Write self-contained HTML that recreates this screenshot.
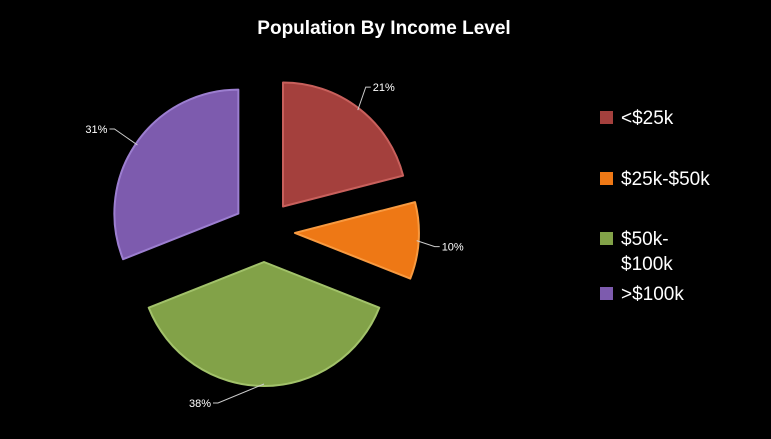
<!DOCTYPE html>
<html><head><meta charset="utf-8">
<style>
html,body{margin:0;padding:0;background:#000;}
body{width:771px;height:434px;overflow:hidden;font-family:"Liberation Sans",sans-serif;}
</style></head>
<body>
<svg id="chart" width="771" height="434" viewBox="0 0 771 434">
<defs>
<radialGradient id="shade" cx="50%" cy="50%" r="50%">
<stop offset="0.9" stop-color="#000" stop-opacity="0"/>
<stop offset="1" stop-color="#000" stop-opacity="0.15"/>
</radialGradient>
</defs>
<rect x="0" y="0" width="771" height="434" fill="#000"/>
<text x="384" y="34" text-anchor="middle" fill="#fff" font-size="19" font-weight="bold">Population By Income Level</text>
<g id="slices"></g>
<g id="labels"></g>
<g id="legend"></g>
</svg>
<script>
const categories = ["<$25k", "$25k-$50k", "$50k-$100k", ">$100k"];
const values = [21, 10, 38, 31];
const valueLabels = ["21%", "10%", "38%", "31%"];
const colors = ["#A4403D", "#EE7815", "#82A248", "#7D5BAE"];
const edgeColors = ["#C8605C", "#F89A40", "#A2C26A", "#9C7ED0"];

const NS = "http://www.w3.org/2000/svg";
const cx = 264, cy = 231, r = 124, explode = 31;
const labelDx = [8, 18, -46, -23];
const labelDy = [-23, 6, 19, -16];
const total = values.reduce((a, b) => a + b, 0);
function pt(angleDeg, rad, ox, oy) {
  const a = angleDeg * Math.PI / 180;
  return [ox + rad * Math.sin(a), oy - rad * Math.cos(a)];
}
const sg = document.getElementById("slices");
const lg = document.getElementById("labels");
let start = 0;
values.forEach((v, i) => {
  const sweep = v / total * 360;
  const mid = start + sweep / 2;
  const [ox, oy] = pt(mid, explode, cx, cy);
  const [x1, y1] = pt(start, r, ox, oy);
  const [x2, y2] = pt(start + sweep, r, ox, oy);
  const large = sweep > 180 ? 1 : 0;
  const d = `M${ox},${oy} L${x1},${y1} A${r},${r} 0 ${large} 1 ${x2},${y2} Z`;
  const p = document.createElementNS(NS, "path");
  p.setAttribute("d", d);
  p.setAttribute("fill", colors[i]);
  p.setAttribute("stroke", edgeColors[i]);
  p.setAttribute("stroke-width", "2");
  p.setAttribute("stroke-linejoin", "round");
  
  
  sg.appendChild(p);
  const [ex, ey] = pt(mid, r - 2, ox, oy);
  const lx = ex + labelDx[i], ly = ey + labelDy[i];
  const right = labelDx[i] >= 0;
  const hx = lx + (right ? 5 : -5);
  const ln = document.createElementNS(NS, "polyline");
  ln.setAttribute("points", `${ex},${ey} ${lx},${ly} ${hx},${ly}`);
  ln.setAttribute("fill", "none");
  ln.setAttribute("stroke", "#ccc");
  ln.setAttribute("stroke-width", "1");
  
  
  lg.appendChild(ln);
  const t = document.createElementNS(NS, "text");
  t.setAttribute("x", hx + (right ? 2 : -2));
  t.setAttribute("y", ly + 4);
  t.setAttribute("text-anchor", right ? "start" : "end");
  t.setAttribute("fill", "#fff");
  t.setAttribute("font-size", "11");
  t.textContent = valueLabels[i];
  
  
  lg.appendChild(t);
  start += sweep;
});
const leg = document.getElementById("legend");
const legY = [117, 178, 238, 293];
categories.forEach((c, i) => {
  const g = document.createElementNS(NS, "g");
  
  
  const sq = document.createElementNS(NS, "rect");
  sq.setAttribute("x", 600); sq.setAttribute("y", legY[i] - 6);
  sq.setAttribute("width", 13); sq.setAttribute("height", 13);
  sq.setAttribute("fill", colors[i]);
  
  
  g.appendChild(sq);
  const lines = i === 2 ? ["$50k-", "$100k"] : [c];
  lines.forEach((s, j) => {
    const t = document.createElementNS(NS, "text");
    t.setAttribute("x", 621);
    t.setAttribute("y", legY[i] + 7 + j * 25);
    t.setAttribute("fill", "#fff");
    t.setAttribute("font-size", "19");
    t.textContent = s;
    
    
    g.appendChild(t);
  });
  leg.appendChild(g);
});
</script>
</body></html>
